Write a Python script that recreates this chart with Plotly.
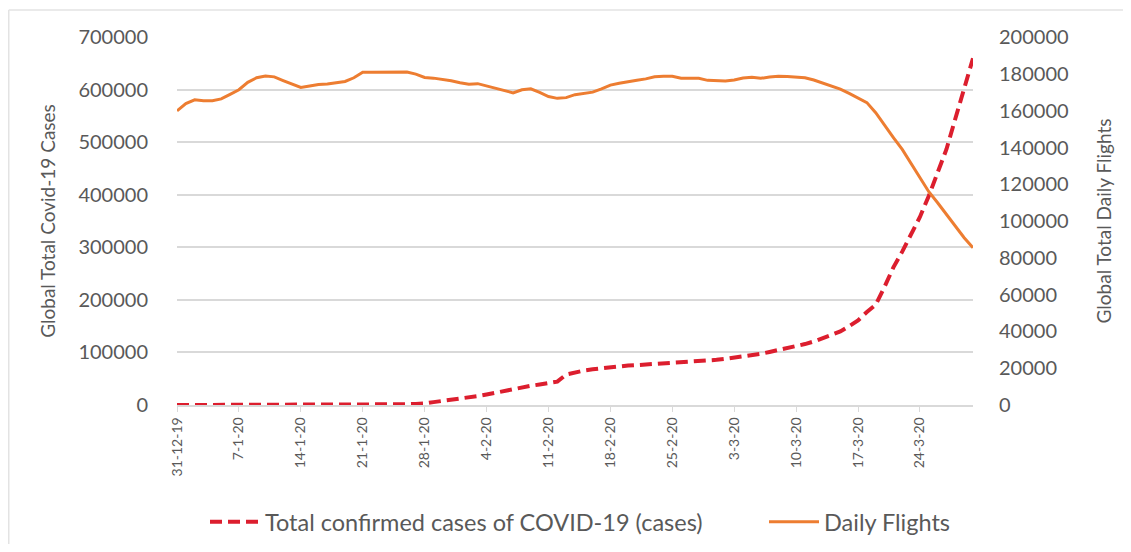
import pandas as pd
import plotly.graph_objects as go

# ---- data ----
dates = pd.date_range("2019-12-31", "2020-03-30", freq="D")

cases = [
    27, 27, 27, 44, 44, 59, 59, 59, 59, 59,
    59, 59, 59, 60, 60, 60, 61, 61, 62, 77,
    218, 282, 332, 555, 653, 941, 1400, 2070, 2800, 5500,
    7500, 9500, 11800, 14300, 17000, 20000, 23500, 27000, 30500, 33500,
    36500, 39000, 42000, 44500, 58000, 62000, 65500, 68000, 70000, 72000,
    73800, 75200, 76000, 77000, 78000, 79000, 80000, 80700, 81500, 82700,
    84200, 86000, 88000, 90000, 92000, 94500, 97500, 101000, 104500, 108000,
    112000, 116000, 121000, 127000, 133000, 140000, 150000, 161000, 177000, 191000,
    225000, 262000, 292000, 325000, 358000, 398000, 440000, 487000, 545000, 600000,
    660000,
]

flights = [
    160000, 164000, 166000, 165500, 165500, 166500, 169000, 171500, 175500, 178000,
    179000, 178500, 176500, 174500, 172700, 173500, 174300, 174600, 175300, 176000,
    178000, 181000, 181000, 181000, 181200, 181200, 181100, 180000, 178200, 177800,
    177200, 176400, 175300, 174500, 174800, 173600, 172400, 171000, 169800, 171500,
    172000, 170000, 167800, 166800, 167200, 168800, 169500, 170200, 172000, 174000,
    175000, 176000, 176600, 177400, 178600, 178800, 178800, 177700, 177800, 177700,
    176600, 176300, 176300, 176800, 177900, 178300, 177700, 178400, 178800, 178700,
    178400, 178000, 176800, 175200, 173800, 171800, 169500, 167000, 164500, 159000,
    152000, 145500, 139000, 131500, 123500, 116000, 110000, 103500, 97500, 91000,
    85500,
]

series_names = ["Total confirmed cases of COVID-19 (cases)", "Daily Flights"]
left_title = "Global Total Covid-19 Cases"
right_title = "Global Total Daily Flights"

# ---- style ----
TXT = "#595959"
GRID = "#d9d9d9"
FONT = "Lato, 'Open Sans', sans-serif"

fig = go.Figure()
fig.add_trace(go.Scatter(
    x=dates, y=cases, name=series_names[0], mode="lines",
    line=dict(color="#DC1E2E", width=4, dash="12px,6px"),
    yaxis="y", legend="legend",
))
fig.add_trace(go.Scatter(
    x=dates, y=flights, name=series_names[1], mode="lines",
    line=dict(color="#ED7D31", width=3),
    yaxis="y2", legend="legend2",
))

# page body has an 8px margin, so the figure is 16px smaller than the window
W, H = 1115, 536
L, R, T, B = 169, 150, 29, 139
pw = W - L - R
ph = H - T - B
pad = 0.0009  # tiny headroom so the top gridline is drawn

leg_y = -(514 - (T + ph)) / ph
leg_common = dict(
    orientation="h", xanchor="left", y=leg_y, yanchor="middle",
    font=dict(size=23.5, color=TXT), bgcolor="rgba(0,0,0,0)", itemwidth=50,
)

fig.update_layout(
    width=W, height=H,
    margin=dict(l=L, r=R, t=T, b=B, autoexpand=False),
    paper_bgcolor="white", plot_bgcolor="white",
    font=dict(family=FONT, color=TXT, size=20),
    showlegend=True,
    legend=dict(x=(209 - 12 - L) / pw, **leg_common),
    legend2=dict(x=(768 - 12 - L) / pw, **leg_common),
    xaxis=dict(
        type="date",
        range=[dates[0], dates[-1]],
        tick0=dates[0], dtick=7 * 24 * 3600 * 1000,
        tickformat="%-d-%-m-%y", tickangle=-90,
        tickfont=dict(size=14, color=TXT),
        showgrid=False, showline=True, linecolor=GRID, linewidth=1.5,
        ticks="outside", ticklen=5, tickcolor=GRID,
        zeroline=False, automargin=False,
    ),
    yaxis=dict(
        range=[0, 700000 * (1 + pad)], dtick=100000, tickformat="d",
        showgrid=True, gridcolor=GRID, gridwidth=1.5,
        zeroline=False, showline=False, ticks="",
        ticklabelstandoff=28,
        tickfont=dict(size=20, color=TXT),
        title=dict(text=left_title, font=dict(size=19, color=TXT), standoff=17),
        automargin=False,
    ),
    yaxis2=dict(
        range=[0, 200000 * (1 + pad)], dtick=20000, tickformat="d",
        overlaying="y", side="right",
        showgrid=False, zeroline=False, showline=False, ticks="",
        ticklabelstandoff=25,
        tickfont=dict(size=20, color=TXT),
        title=dict(text=right_title, font=dict(size=19, color=TXT), standoff=30),
        automargin=False,
    ),
    shapes=[
        dict(type="line", xref="paper", yref="paper",
             x0=(0.75 - L) / pw, x1=(0.75 - L) / pw,
             y0=-(H - T - ph) / ph, y1=1 + (T - 2) / ph,
             line=dict(color="#e3e3e3", width=1.5), layer="below"),
        dict(type="line", xref="paper", yref="paper",
             x0=(0.75 - L) / pw, x1=(W - L) / pw,
             y0=1 + (T - 2) / ph, y1=1 + (T - 2) / ph,
             line=dict(color="#e3e3e3", width=1.5), layer="below"),
    ],
)

fig.write_html("out.html")
